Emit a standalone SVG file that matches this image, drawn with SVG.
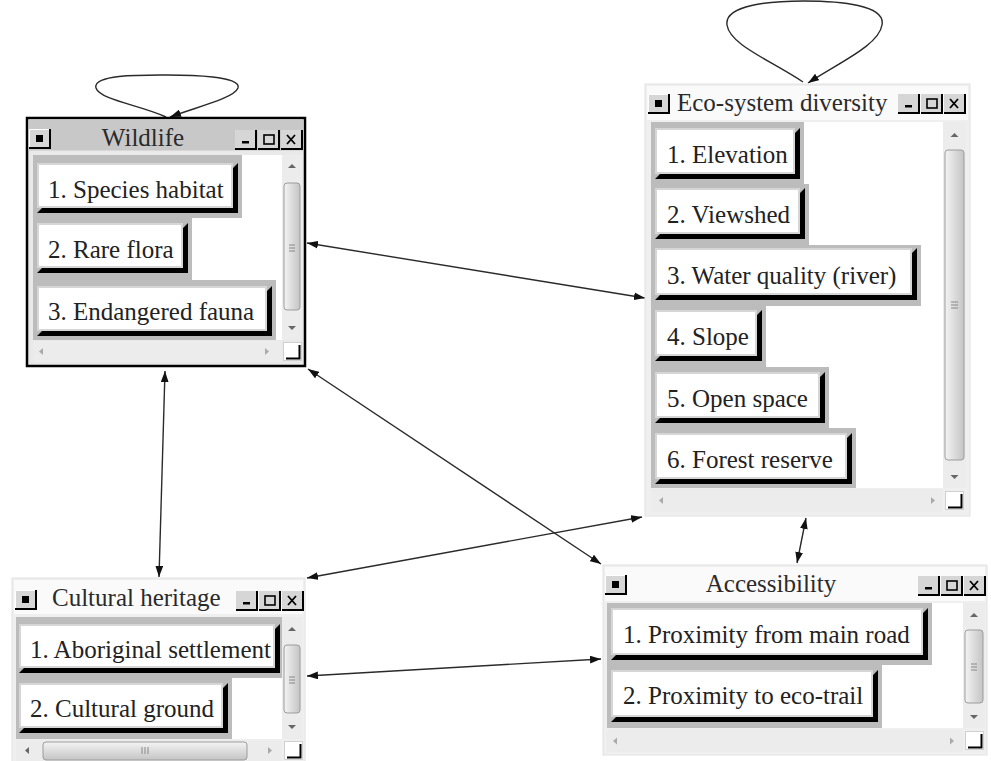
<svg xmlns="http://www.w3.org/2000/svg" width="991" height="761" viewBox="0 0 991 761">
<defs>
<style>
.frame{fill:#efefef;stroke:#e2e2e2;stroke-width:1}
.tbar{fill:#fafafa}
.content{fill:#fff}
.row{fill:#bcbcbc}
.shadow{fill:#000}
.face{fill:#fff;stroke:#d6d6d6;stroke-width:2}
.lbl{font-family:"Liberation Serif","Times New Roman",serif;font-size:25px;fill:#222}
.title{font-family:"Liberation Serif","Times New Roman",serif;font-size:25px;fill:#2a2a2a}
.track{fill:#ececec}
.varr{fill:#666}
.harr{fill:#aaa}
.thumb{fill:url(#vg);stroke:#9c9c9c;stroke-width:1}
.hthumb{fill:url(#hg);stroke:#9c9c9c;stroke-width:1}
.grip{stroke:#888;stroke-width:1}
.edge{fill:none;stroke:#2a2a2a;stroke-width:1.4}
</style>
<linearGradient id="vg" x1="0" y1="0" x2="1" y2="0"><stop offset="0" stop-color="#f4f4f4"/><stop offset="1" stop-color="#c4c4c4"/></linearGradient>
<linearGradient id="hg" x1="0" y1="0" x2="0" y2="1"><stop offset="0" stop-color="#f4f4f4"/><stop offset="1" stop-color="#c4c4c4"/></linearGradient>
<marker id="ah" viewBox="0 0 10 7" refX="10" refY="3.5" markerWidth="11" markerHeight="8" markerUnits="userSpaceOnUse" orient="auto-start-reverse"><path d="M0,0 L10,3.5 L0,7 z" fill="#111"/></marker>
<symbol id="icon" viewBox="0 0 22 20" width="22" height="20">
<rect x="0" y="0" width="22" height="20" fill="#d6d6d6"/>
<path d="M0.5,19.5 V0.5 H21.5" fill="none" stroke="#fff" stroke-width="1"/>
<path d="M0,19 H21 V0" fill="none" stroke="#000" stroke-width="2"/>
<rect x="7" y="6" width="7" height="7" fill="#000"/>
</symbol>
<symbol id="tb" viewBox="0 0 69 20" width="69" height="20">
<rect x="0" y="0" width="22" height="20" fill="#d6d6d6"/>
<rect x="23" y="0" width="22" height="20" fill="#d6d6d6"/>
<rect x="46" y="0" width="22" height="20" fill="#d6d6d6"/>
<path d="M0,19 H21 V0 M23,19 H44 V0 M46,19 H67 V0" fill="none" stroke="#000" stroke-width="2"/>
<rect x="7" y="11" width="7" height="2.5" fill="#000"/>
<rect x="29" y="5" width="10" height="9" fill="none" stroke="#000" stroke-width="1.6"/>
<path d="M52,5 L60,14 M60,5 L52,14" stroke="#000" stroke-width="1.8"/>
</symbol>
<symbol id="corner" viewBox="0 0 19 19" width="19" height="19">
<rect x="0.5" y="0.5" width="18" height="18" fill="#fff" stroke="#d0d0d0"/>
<path d="M3,16.5 H16.5 V3" fill="none" stroke="#000" stroke-width="2"/>
</symbol>
</defs>

<g id="connectors">
<path class="edge" marker-end="url(#ah)" d="M166,117 C140,105 100,100 96,88 C92,74 145,75 167,75 C190,75 242,76 238,88 C234,98 200,106 170,117"/>
<path class="edge" marker-end="url(#ah)" d="M803,82 C770,60 730,45 727,25 C724,5 770,1 804,1 C840,1 886,5 882,25 C879,45 840,62 808,83"/>
<line class="edge" marker-start="url(#ah)" marker-end="url(#ah)" x1="307" y1="243" x2="645" y2="298"/>
<line class="edge" marker-start="url(#ah)" marker-end="url(#ah)" x1="308" y1="369" x2="601" y2="564"/>
<line class="edge" marker-start="url(#ah)" marker-end="url(#ah)" x1="165" y1="371" x2="159" y2="577"/>
<line class="edge" marker-start="url(#ah)" marker-end="url(#ah)" x1="642" y1="517" x2="307" y2="578"/>
<line class="edge" marker-start="url(#ah)" marker-end="url(#ah)" x1="806" y1="518" x2="797" y2="563"/>
<line class="edge" marker-start="url(#ah)" marker-end="url(#ah)" x1="307" y1="676" x2="601" y2="659"/>
</g>

<g id="wildlife">
<rect x="27" y="118" width="278" height="248" fill="#e9e9e9" stroke="#000" stroke-width="2.5"/>
<rect x="28.5" y="119.5" width="275" height="31" fill="#c8c8c8"/>
<use href="#icon" x="29" y="129"/>
<text class="title" x="143" y="146" text-anchor="middle">Wildlife</text>
<use href="#tb" x="235" y="130"/>
<rect class="content" x="33" y="155" width="249" height="185"/>
<rect class="row" x="33" y="155" width="209" height="63"/>
<rect class="row" x="33" y="218" width="159" height="62"/>
<rect class="row" x="33" y="280" width="243" height="60"/>
<polygon class="shadow" points="37,213 238,213 238,163 233,168 233,208 42,208"/>
<rect class="face" x="38" y="164" width="194" height="43"/>
<text class="lbl" x="48" y="198">1. Species habitat</text>
<polygon class="shadow" points="37,273 188,273 188,223 183,228 183,268 42,268"/>
<rect class="face" x="38" y="224" width="144" height="43"/>
<text class="lbl" x="48" y="258">2. Rare flora</text>
<polygon class="shadow" points="37,336 272,336 272,286 267,291 267,331 42,331"/>
<rect class="face" x="38" y="287" width="228" height="43"/>
<text class="lbl" x="48" y="320">3. Endangered fauna</text>
<rect class="track" x="282" y="155" width="20" height="185"/>
<polygon class="varr" points="288,168 292,164 296,168"/>
<rect class="thumb" x="284" y="183" width="16" height="127" rx="3"/>
<path class="grip" d="M289,245 H295 M289,248 H295 M289,251 H295"/>
<polygon class="varr" points="288,326 292,330 296,326"/>
<rect class="track" x="33" y="341" width="249" height="21"/>
<polygon class="harr" points="43,348 39,351.5 43,355"/>
<polygon class="harr" points="265,348 269,351.5 265,355"/>
<use href="#corner" x="283" y="342"/>
</g>

<g id="eco-system-diversity">
<rect class="frame" x="645" y="84" width="325" height="432"/>
<rect class="tbar" x="647" y="86" width="321" height="34"/>
<use href="#icon" x="648" y="94"/>
<text class="title" x="677" y="111">Eco-system diversity</text>
<use href="#tb" x="898" y="94"/>
<rect class="content" x="651" y="122" width="292" height="366"/>
<rect class="row" x="651" y="122" width="153" height="62"/>
<rect class="row" x="651" y="184" width="158" height="61"/>
<rect class="row" x="651" y="245" width="270" height="61"/>
<rect class="row" x="651" y="306" width="115" height="61"/>
<rect class="row" x="651" y="367" width="178" height="61"/>
<rect class="row" x="651" y="428" width="205" height="60"/>
<polygon class="shadow" points="655,179 800,179 800,128 795,133 795,174 660,174"/>
<rect class="face" x="656" y="129" width="138" height="44"/>
<text class="lbl" x="667" y="163">1. Elevation</text>
<polygon class="shadow" points="655,239 805,239 805,188 800,193 800,234 660,234"/>
<rect class="face" x="656" y="189" width="143" height="44"/>
<text class="lbl" x="667" y="223">2. Viewshed</text>
<polygon class="shadow" points="655,300 917,300 917,248 912,253 912,295 660,295"/>
<rect class="face" x="656" y="249" width="255" height="45"/>
<text class="lbl" x="667" y="284">3. Water quality (river)</text>
<polygon class="shadow" points="655,361 762,361 762,310 757,315 757,356 660,356"/>
<rect class="face" x="656" y="311" width="100" height="44"/>
<text class="lbl" x="667" y="345">4. Slope</text>
<polygon class="shadow" points="655,423 825,423 825,372 820,377 820,418 660,418"/>
<rect class="face" x="656" y="373" width="163" height="44"/>
<text class="lbl" x="667" y="407">5. Open space</text>
<polygon class="shadow" points="655,484 852,484 852,433 847,438 847,479 660,479"/>
<rect class="face" x="656" y="434" width="190" height="44"/>
<text class="lbl" x="667" y="468">6. Forest reserve</text>
<rect class="track" x="943" y="122" width="23" height="366"/>
<polygon class="varr" points="950.5,137 954.5,133 958.5,137"/>
<rect class="thumb" x="945" y="150" width="19" height="310" rx="3"/>
<path class="grip" d="M951,302 H958 M951,305 H958 M951,308 H958"/>
<polygon class="varr" points="950.5,475 954.5,479 958.5,475"/>
<rect class="track" x="651" y="489" width="292" height="23"/>
<polygon class="harr" points="663,497 659,500.5 663,504"/>
<polygon class="harr" points="931,497 935,500.5 931,504"/>
<use href="#corner" x="945" y="491"/>
</g>

<g id="cultural-heritage">
<rect class="frame" x="12" y="578" width="293" height="185"/>
<rect class="tbar" x="14" y="580" width="289" height="34"/>
<use href="#icon" x="15" y="590"/>
<text class="title" x="52" y="606">Cultural heritage</text>
<use href="#tb" x="236" y="591"/>
<rect class="content" x="16" y="617" width="266" height="122"/>
<rect class="row" x="16" y="617" width="266" height="61"/>
<rect class="row" x="16" y="678" width="216" height="61"/>
<polygon class="shadow" points="19,673 280,673 280,624 275,629 275,668 24,668"/>
<rect class="face" x="20" y="625" width="254" height="42"/>
<text class="lbl" x="30" y="658">1. Aboriginal settlement</text>
<polygon class="shadow" points="19,733 228,733 228,683 223,688 223,728 24,728"/>
<rect class="face" x="20" y="684" width="202" height="43"/>
<text class="lbl" x="30" y="717">2. Cultural ground</text>
<rect class="track" x="282" y="617" width="20" height="122"/>
<polygon class="varr" points="288,631 292,627 296,631"/>
<rect class="thumb" x="284" y="645" width="16" height="68" rx="3"/>
<path class="grip" d="M289,677 H295 M289,680 H295 M289,683 H295"/>
<polygon class="varr" points="288,725 292,729 296,725"/>
<rect class="track" x="16" y="740" width="266" height="21"/>
<polygon class="varr" points="29,747 25,750.5 29,754"/>
<rect class="hthumb" x="43" y="742" width="204" height="18" rx="3"/>
<path class="grip" d="M142,747 V754 M145,747 V754 M148,747 V754"/>
<polygon class="harr" points="268,747 272,750.5 268,754"/>
<use href="#corner" x="284" y="741"/>
</g>

<g id="accessibility">
<rect class="frame" x="603" y="565" width="384" height="190"/>
<rect class="tbar" x="605" y="567" width="380" height="34"/>
<use href="#icon" x="605" y="575"/>
<text class="title" x="771" y="592" text-anchor="middle">Accessibility</text>
<use href="#tb" x="918" y="576"/>
<rect class="content" x="607" y="603" width="356" height="125"/>
<rect class="row" x="607" y="603" width="325" height="62"/>
<rect class="row" x="607" y="665" width="275" height="63"/>
<polygon class="shadow" points="611,660 928,660 928,608 923,613 923,655 616,655"/>
<rect class="face" x="612" y="609" width="310" height="45"/>
<text class="lbl" x="623" y="643">1. Proximity from main road</text>
<polygon class="shadow" points="611,722 878,722 878,670 873,675 873,717 616,717"/>
<rect class="face" x="612" y="671" width="260" height="45"/>
<text class="lbl" x="623" y="704">2. Proximity to eco-trail</text>
<rect class="track" x="963" y="603" width="22" height="125"/>
<polygon class="varr" points="970,617 974,613 978,617"/>
<rect class="thumb" x="965" y="630" width="18" height="73" rx="3"/>
<path class="grip" d="M971,664 H977 M971,667 H977 M971,670 H977"/>
<polygon class="varr" points="970,715 974,719 978,715"/>
<rect class="track" x="607" y="730" width="356" height="22"/>
<polygon class="harr" points="617,737.5 613,741 617,744.5"/>
<polygon class="harr" points="950,737.5 954,741 950,744.5"/>
<use href="#corner" x="965" y="731"/>
</g>
</svg>
